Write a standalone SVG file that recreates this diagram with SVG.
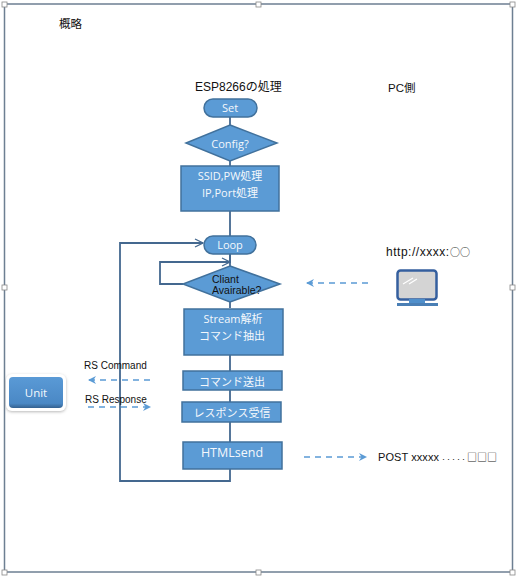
<svg xmlns="http://www.w3.org/2000/svg" width="516" height="577" viewBox="0 0 516 577">
<defs>
<marker id="arr" viewBox="0 0 10 10" refX="9" refY="5" markerWidth="10" markerHeight="10" markerUnits="userSpaceOnUse" orient="auto"><path d="M1 1L9 5L1 9" fill="none" stroke="#44688f" stroke-width="1.300"/></marker>
<marker id="arrd" viewBox="0 0 10 10" refX="9" refY="5" markerWidth="10" markerHeight="10" markerUnits="userSpaceOnUse" orient="auto"><path d="M1 1L9 5L1 9L3.500 5Z" fill="#5b9bd5"/></marker>
<filter id="sh" x="-20%" y="-20%" width="140%" height="140%"><feDropShadow dx="0" dy="1" stdDeviation="1.500" flood-color="#888" flood-opacity=".6"/></filter>
<linearGradient id="ug" x1="0" y1="0" x2="0" y2="1"><stop offset="0" stop-color="#5a9ad6"/><stop offset=".85" stop-color="#4a88c5"/><stop offset="1" stop-color="#34618f"/></linearGradient>
</defs>
<style>
text{font-family:"Liberation Sans","Noto Sans CJK JP",sans-serif}
.s{fill:#5b9bd5;stroke:#41719c;stroke-width:1.500}
.w{fill:#f4f8fc;font-size:11px;text-anchor:middle;font-family:"Open Sans","Noto Sans CJK JP",sans-serif}
.k{fill:#111;font-size:11.500px}
.c{fill:none;stroke:#44688f;stroke-width:1.800}
.d{fill:none;stroke:#5b9bd5;stroke-width:1.500;stroke-dasharray:6 5}
.h{fill:#fff;stroke:#888;stroke-width:.8}
.j{font-family:"Noto Sans CJK JP",sans-serif;fill:#222;font-size:10px}
</style>
<g id="frame"><rect x="4.500" y="4" width="508" height="568" fill="#fff" stroke="#6d7f92" stroke-width="1.500"/>
<rect class="h" x="2" y="2" width="5" height="5"/><rect class="h" x="256" y="2" width="5" height="5"/><rect class="h" x="510" y="2" width="5" height="5"/><rect class="h" x="2" y="285" width="5" height="5"/><rect class="h" x="510" y="285" width="5" height="5"/><rect class="h" x="2" y="570" width="5" height="5"/><rect class="h" x="256" y="570" width="5" height="5"/><rect class="h" x="510" y="570" width="5" height="5"/></g>
<g id="connectors">
<path class="c" d="M230 117V125M230 161V166M230 211V236M230 254V266M230 302V308M230 355V371M230 390V402M230 422V442M230 469V481H120V243H203" />
<path class="c" d="M230 254V262H160V284H183" />
<path class="c" d="M120 243H203" marker-end="url(#arr)"/>
<path class="c" d="M160 262H230" marker-end="url(#arr)"/>
<path class="d" d="M368 283H306" marker-end="url(#arrd)"/>
<path class="d" d="M150 380H88" marker-end="url(#arrd)"/>
<path class="d" d="M88 407H151" marker-end="url(#arrd)"/>
<path class="d" d="M304 457H367" marker-end="url(#arrd)"/>
</g>
<g id="title"><text class="k" x="59" y="28">概略</text></g>
<g id="esp-title"><text class="k" x="195" y="91" style="font-size:12px">ESP8266の処理</text></g>
<g id="pc-title"><text class="k" x="388" y="92">PC側</text></g>
<g id="set"><rect class="s" x="204" y="99" width="53" height="18" rx="9"/><text class="w" x="230" y="112">Set</text></g>
<g id="config"><path class="s" d="M230 125L277 143L230 161L186 143Z"/><text class="w" x="230" y="148">Config?</text></g>
<g id="ssid"><rect class="s" x="181" y="166" width="98" height="45"/><text class="w" x="230" y="180">SSID,PW処理</text><text class="w" x="230" y="197">IP,Port処理</text></g>
<g id="loop"><rect class="s" x="204" y="236" width="52" height="18" rx="9"/><text class="w" x="230" y="249">Loop</text></g>
<g id="client"><path class="s" d="M230 266L280 284L230 302L183 284Z"/><text x="212" y="283" font-size="10.500" fill="#111">Cliant</text><text x="212" y="294" font-size="10.500" fill="#111">Avairable?</text></g>
<g id="stream"><rect class="s" x="184" y="309" width="99" height="46"/><text class="w" x="233" y="323">Stream解析</text><text class="w" x="232" y="340">コマンド抽出</text></g>
<g id="cmd"><rect class="s" x="183" y="371" width="99" height="19"/><text class="w" x="232" y="386">コマンド送出</text></g>
<g id="resp"><rect class="s" x="182" y="402" width="99" height="20"/><text class="w" x="232" y="417">レスポンス受信</text></g>
<g id="html"><rect class="s" x="183" y="442" width="99" height="27"/><text class="w" x="232" y="457" style="font-size:12.500px">HTMLsend</text></g>
<g id="unit"><rect x="6" y="374" width="60" height="37" rx="6" fill="#fff" filter="url(#sh)"/><rect x="9" y="377" width="54" height="31" rx="4" fill="url(#ug)"/><text class="w" x="36" y="397" style="font-size:11.500px">Unit</text></g>
<g id="rs-command"><text x="84" y="369" font-size="10" fill="#111">RS Command</text></g>
<g id="rs-response"><text x="85" y="403" font-size="10" fill="#111">RS Response</text></g>
<g id="pc"><text class="k" x="386" y="256" textLength="63" style="font-size:12px">http://xxxx:</text><text class="j" x="450" y="256">○○</text>
<rect x="397.500" y="270.500" width="39" height="29" rx="3" fill="#d4d4d4" stroke="#355f9e" stroke-width="2.500"/>
<path d="M403 284L413 278M409 284L417 279" stroke="#fff" stroke-width="1.200"/>
<rect x="409" y="299" width="16" height="4" fill="#4f8fcb"/><rect x="397" y="303" width="41" height="3" fill="#4a7fb5"/></g>
<g id="post"><text x="378" y="461" font-size="11" fill="#111" textLength="61">POST xxxxx</text><text class="j" x="441" y="461" style="font-size:5px">・・・・・</text><text class="j" x="467" y="461">□□□</text></g>
</svg>
